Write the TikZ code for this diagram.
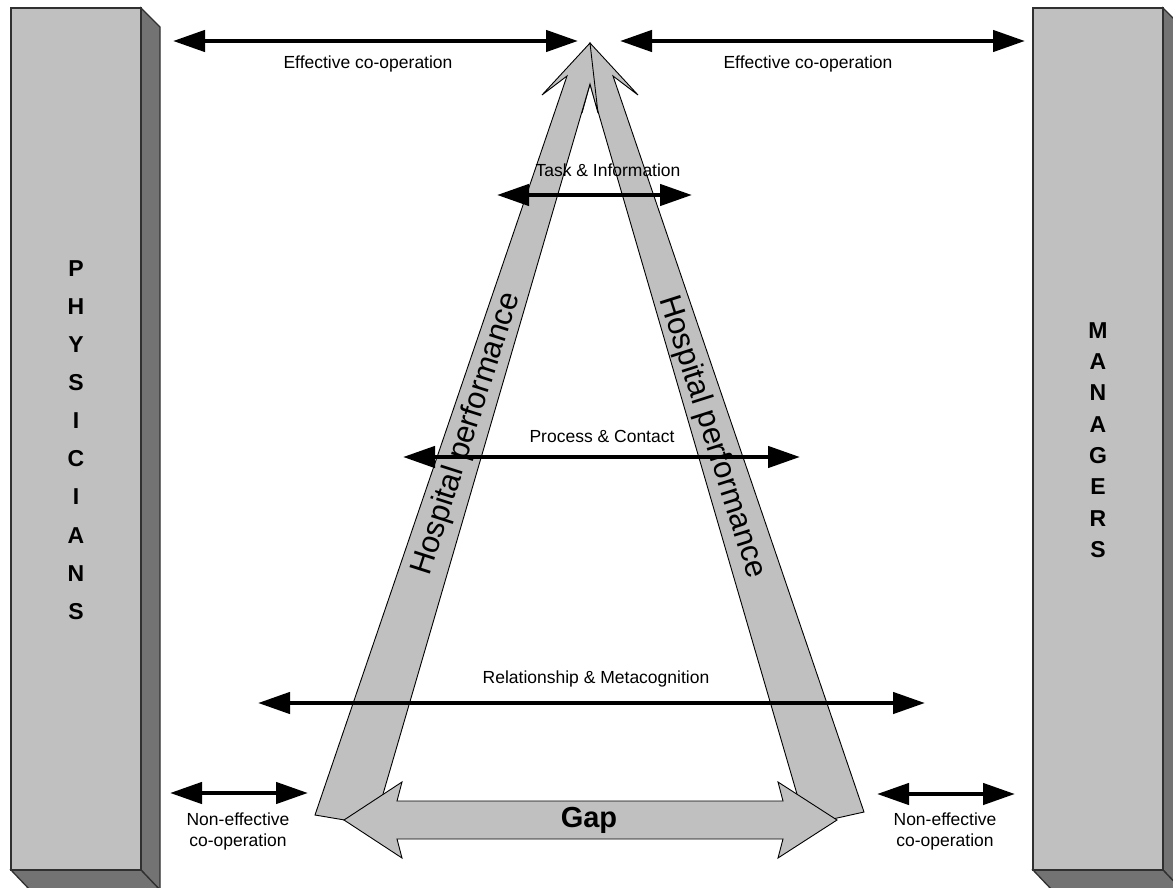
\documentclass[tikz,border=0pt]{standalone}
\usepackage{fontspec}
\setmainfont{Liberation Sans}
\usetikzlibrary{arrows.meta}
\definecolor{pfront}{HTML}{C0C0C0}
\definecolor{pside}{HTML}{737373}
\definecolor{pedge}{HTML}{303030}
\tikzset{
  harrow/.style={line width=4.5pt, {Triangle[length=32pt,width=21pt]}-{Triangle[length=32pt,width=21pt]}},
  lab/.style={font=\fontsize{17.5}{21}\selectfont, inner sep=0pt, align=center},
  bigarrow/.style={fill=pfront, draw=black, line width=0.9pt, line join=miter},
  front/.style={fill=pfront, draw=pedge, line width=1.3pt},
  side/.style={fill=pside, draw=pedge, line width=1.3pt},
  hosp/.style={font=\fontsize{31}{36}\selectfont, inner sep=0pt},
  physstack/.style={font=\fontsize{23}{38.1}\selectfont\bfseries, align=center, inner sep=0pt},
  manstack/.style={font=\fontsize{23}{31.3}\selectfont\bfseries, align=center, inner sep=0pt}
}
\begin{document}
\begin{tikzpicture}[x=1pt,y=-1pt]
\useasboundingbox (0,0) rectangle (1173,888);
\clip (0,0) rectangle (1173,888);
% pillars
\filldraw[side] (141,8) -- (160,27) -- (160,890) -- (141,870) -- cycle;
\filldraw[side] (11,870) -- (141,870) -- (160,890) -- (30,890) -- cycle;
\filldraw[front] (11,8) rectangle (141,870);
\filldraw[side] (1163,8) -- (1182,27) -- (1182,890) -- (1163,870) -- cycle;
\filldraw[side] (1033,870) -- (1163,870) -- (1182,890) -- (1052,890) -- cycle;
\filldraw[front] (1033,8) rectangle (1163,870);
\node[physstack] (phys) at (76,440) {P\\H\\Y\\S\\I\\C\\I\\A\\N\\S};
\node[manstack] (man) at (1098,440) {M\\A\\N\\A\\G\\E\\R\\S};
% big arrows
\filldraw[bigarrow] (590,43) -- (638,95) -- (613,76) -- (864,812) -- (806,825) -- (590,84) -- (582,113) -- cycle;
\filldraw[bigarrow] (590,43) -- (542,95) -- (567,76) -- (315,815) -- (374,825) -- (590,84) -- (598,113) -- cycle;
% gap arrow
\filldraw[bigarrow] (344,820) -- (402,782) -- (397,801) -- (783,801) -- (778,782) -- (837,820) -- (778,858) -- (783,839) -- (397,839) -- (402,858) -- cycle;
\node[font=\fontsize{29}{34}\selectfont\bfseries, inner sep=0pt] (gap) at (589,820) {Gap};
\node[hosp, rotate=72.3] (hpl) at (467,434) {Hospital performance};
\node[hosp, rotate=-72.3] (hpr) at (712,437) {Hospital performance};
% black double arrows
\coordinate (a1l) at (173,41); \coordinate (a1r) at (578,41);
\coordinate (a2l) at (620,41); \coordinate (a2r) at (1025,41);
\coordinate (a3l) at (497,195); \coordinate (a3r) at (692,195);
\coordinate (a4l) at (403,457); \coordinate (a4r) at (800,457);
\coordinate (a5l) at (258,703); \coordinate (a5r) at (925,703);
\coordinate (a6l) at (170,793); \coordinate (a6r) at (308,793);
\coordinate (a7l) at (877,794); \coordinate (a7r) at (1015,794);
\draw[harrow] (a1l) -- (a1r);
\draw[harrow] (a2l) -- (a2r);
\draw[harrow] (a3l) -- (a3r);
\draw[harrow] (a4l) -- (a4r);
\draw[harrow] (a5l) -- (a5r);
\draw[harrow] (a6l) -- (a6r);
\draw[harrow] (a7l) -- (a7r);
% labels
\node[lab] (t1) at (368,64) {Effective co-operation};
\node[lab] (t2) at (808,64) {Effective co-operation};
\node[lab] (t3) at (608,170) {Task \& Information};
\node[lab] (t4) at (602,436) {Process \& Contact};
\node[lab] (t5) at (596,679) {Relationship \& Metacognition};
\node[lab] (t6) at (238,831) {Non-effective\\co-operation};
\node[lab] (t7) at (945,831) {Non-effective\\co-operation};
\end{tikzpicture}
\end{document}
